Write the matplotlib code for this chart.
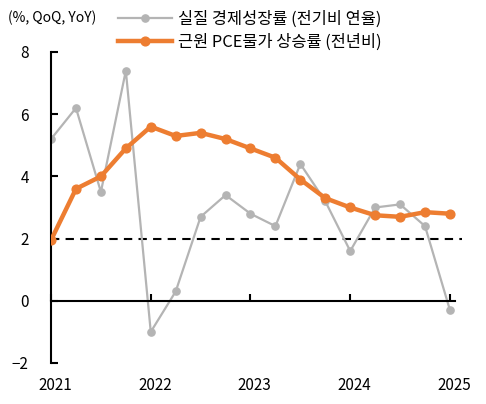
import matplotlib.pyplot as plt
import matplotlib.transforms as mtransforms

plt.rcParams['font.family'] = ['Noto Sans CJK KR', 'DejaVu Sans']

# 2021Q1 ~ 2025Q1
quarters = list(range(17))
gdp_qoq = [5.2, 6.2, 3.5, 7.4, -1.0, 0.3, 2.7, 3.4, 2.8, 2.4, 4.4, 3.2, 1.6, 3.0, 3.1, 2.4, -0.3]
core_pce = [1.95, 3.6, 4.0, 4.9, 5.6, 5.3, 5.4, 5.2, 4.9, 4.6, 3.9, 3.3, 3.0, 2.75, 2.7, 2.85, 2.8]
year_ticks = [0, 4, 8, 12, 16]
year_labels = ['2021', '2022', '2023', '2024', '2025']
y_ticks = [-2, 0, 2, 4, 6, 8]
y_labels = ['\u22122', '0', '2', '4', '6', '8']

gray = '#B4B4B4'
orange = '#ED7D31'

fig = plt.figure(figsize=(4.86, 4.04), dpi=100)
ax = fig.add_axes([0.105, 0.1015, 0.8465, 0.7698])

ax.plot(quarters, gdp_qoq, color=gray, lw=1.6, marker='o', ms=5.2,
        label='실질 경제성장률 (전기비 연율)', zorder=2)
ax.plot(quarters, core_pce, color=orange, lw=3.2, marker='o', ms=6.3,
        label='근원 PCE물가 상승률 (전년비)', zorder=3)
ax.plot([0, 16.5], [2, 2], color='black', lw=1.5, ls=(0, (4, 3)), zorder=1, clip_on=False)

ax.set_xlim(0, 16.5)
ax.set_ylim(-2, 8)

for s in ['top', 'right']:
    ax.spines[s].set_visible(False)
ax.spines['bottom'].set_position(('data', 0))
ax.spines['bottom'].set_bounds(0, 16.2)
ax.spines['left'].set_linewidth(1.5)
ax.spines['bottom'].set_linewidth(1.5)

ax.set_yticks(y_ticks)
ax.set_yticklabels(y_labels)
ax.tick_params(axis='y', direction='in', length=5, width=1.5, pad=16, labelsize=11)
ax.set_xticks(year_ticks)
ax.tick_params(axis='x', direction='in', length=5, width=1.5, labelbottom=False)

ax2 = ax.secondary_xaxis('bottom')
ax2.spines['bottom'].set_visible(False)
ax2.set_xticks(year_ticks)
ax2.set_xticklabels(year_labels)
ax2.tick_params(axis='x', length=0, pad=10, labelsize=11)
offset = mtransforms.ScaledTranslation(4 / 100, 0, fig.dpi_scale_trans)
for lbl in ax2.get_xticklabels():
    lbl.set_transform(lbl.get_transform() + offset)

fig.text(0.016, 0.955, '(%, QoQ, YoY)', fontsize=10, va='center', ha='left')
fig.legend(loc='upper left', bbox_to_anchor=(0.212, 1.01), frameon=False,
           fontsize=11.8, handlelength=3.3, handletextpad=0.35, labelspacing=0.35)

fig.savefig('out.png', dpi=100)
